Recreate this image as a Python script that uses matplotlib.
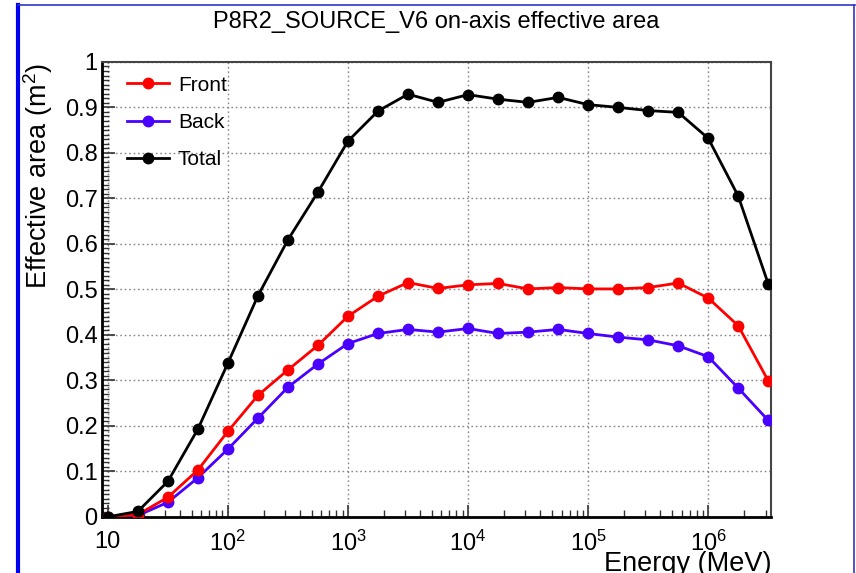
import matplotlib
matplotlib.use("Agg")
import matplotlib.pyplot as plt
import numpy as np
from matplotlib.lines import Line2D
from matplotlib.ticker import FixedLocator, FuncFormatter, MultipleLocator

plt.rcParams['font.family'] = ['Liberation Sans', 'DejaVu Sans']
plt.rcParams['mathtext.fontset'] = 'custom'
plt.rcParams['mathtext.rm'] = 'Liberation Sans'
plt.rcParams['mathtext.it'] = 'Liberation Sans'

# energies in MeV, 4 bins per decade from 10 MeV to ~3 TeV
log_energy = [1.0, 1.25, 1.5, 1.75, 2.0, 2.25, 2.5, 2.75, 3.0, 3.25, 3.5, 3.75,
              4.0, 4.25, 4.5, 4.75, 5.0, 5.25, 5.5, 5.75, 6.0, 6.25, 6.5]
energy = [10 ** e for e in log_energy]

front = [0.0, 0.005, 0.043, 0.103, 0.188, 0.267, 0.323, 0.377, 0.441, 0.485,
         0.515, 0.502, 0.510, 0.513, 0.501, 0.504, 0.501, 0.501, 0.504, 0.514,
         0.481, 0.420, 0.299]
back = [0.0, 0.003, 0.032, 0.086, 0.149, 0.217, 0.285, 0.336, 0.381, 0.403,
        0.412, 0.406, 0.414, 0.403, 0.406, 0.412, 0.403, 0.395, 0.389, 0.376,
        0.352, 0.283, 0.212]
total = [0.0, 0.012, 0.078, 0.193, 0.338, 0.486, 0.609, 0.714, 0.826, 0.892,
         0.929, 0.911, 0.928, 0.918, 0.911, 0.922, 0.906, 0.900, 0.893, 0.889,
         0.832, 0.705, 0.512]

fig = plt.figure(figsize=(8.56, 5.73), dpi=100)
ax = fig.add_axes([0.119, 0.098, 0.782, 0.794])

ax.plot(energy, back, color='#4a00ff', lw=2, marker='o', ms=7.5, label='Back', zorder=3)
ax.plot(energy, front, color='#ff0000', lw=2, marker='o', ms=7.5, label='Front', zorder=4)
ax.plot(energy, total, color='black', lw=2, marker='o', ms=7.5, label='Total', zorder=5)

ax.set_xscale('log')
ax.set_xlim(10 ** 0.95, 10 ** 6.525)
ax.set_ylim(0, 1)

ax.xaxis.set_major_locator(FixedLocator([10, 1e2, 1e3, 1e4, 1e5, 1e6]))
ax.xaxis.set_major_formatter(FuncFormatter(
    lambda v, p: '10' if abs(v - 10) < 1e-6 else r'$10^{%d}$' % round(np.log10(v))))
ax.yaxis.set_major_locator(MultipleLocator(0.1))
ax.yaxis.set_minor_locator(MultipleLocator(0.01))
ax.yaxis.set_major_formatter(FuncFormatter(lambda v, p: '%g' % round(v, 1)))

ax.tick_params(which='both', direction='in', top=False, right=False, labelsize=17, color='#333333')
ax.tick_params(which='major', length=9, width=1.2)
ax.tick_params(which='minor', length=5, width=1)
ax.tick_params(axis='x', pad=10)
ax.tick_params(axis='y', pad=3)
ax.grid(True, which='major', ls=(0, (1.2, 2)), color='#888888', lw=1)

for side in ['left', 'bottom']:
    ax.spines[side].set_linewidth(2)
for side in ['right', 'top']:
    ax.spines[side].set_linewidth(1.5)
    ax.spines[side].set_color('#444444')

handles, labels = ax.get_legend_handles_labels()
order = [1, 0, 2]
ax.legend([handles[i] for i in order], [labels[i] for i in order], loc='upper left',
          frameon=False, fontsize=15, handlelength=2.0, handletextpad=0.45,
          labelspacing=0.87, borderaxespad=0, bbox_to_anchor=(0.025, 0.988))

fig.text(0.509, 0.962, 'P8R2_SOURCE_V6 on-axis effective area', ha='center', va='center', fontsize=17)
ax.set_ylabel(r'Effective area (m$^{2}$)', fontsize=19.5)
ax.yaxis.set_label_coords(-0.07, 0.75)
ax.set_xlabel('Energy (MeV)', fontsize=19.5, ha='right')
ax.xaxis.set_label_coords(1.0, -0.075)

# blue frame around the canvas
fig.add_artist(Line2D([0.021, 0.021], [0, 0.991], transform=fig.transFigure, color='#0000ee', lw=3))
fig.add_artist(Line2D([0.021, 0.999], [0.991, 0.991], transform=fig.transFigure, color='#3333cc', lw=1.2))
fig.add_artist(Line2D([0.998, 0.998], [0, 0.991], transform=fig.transFigure, color='#3333cc', lw=1.2))

fig.savefig('out.png', dpi=100)
